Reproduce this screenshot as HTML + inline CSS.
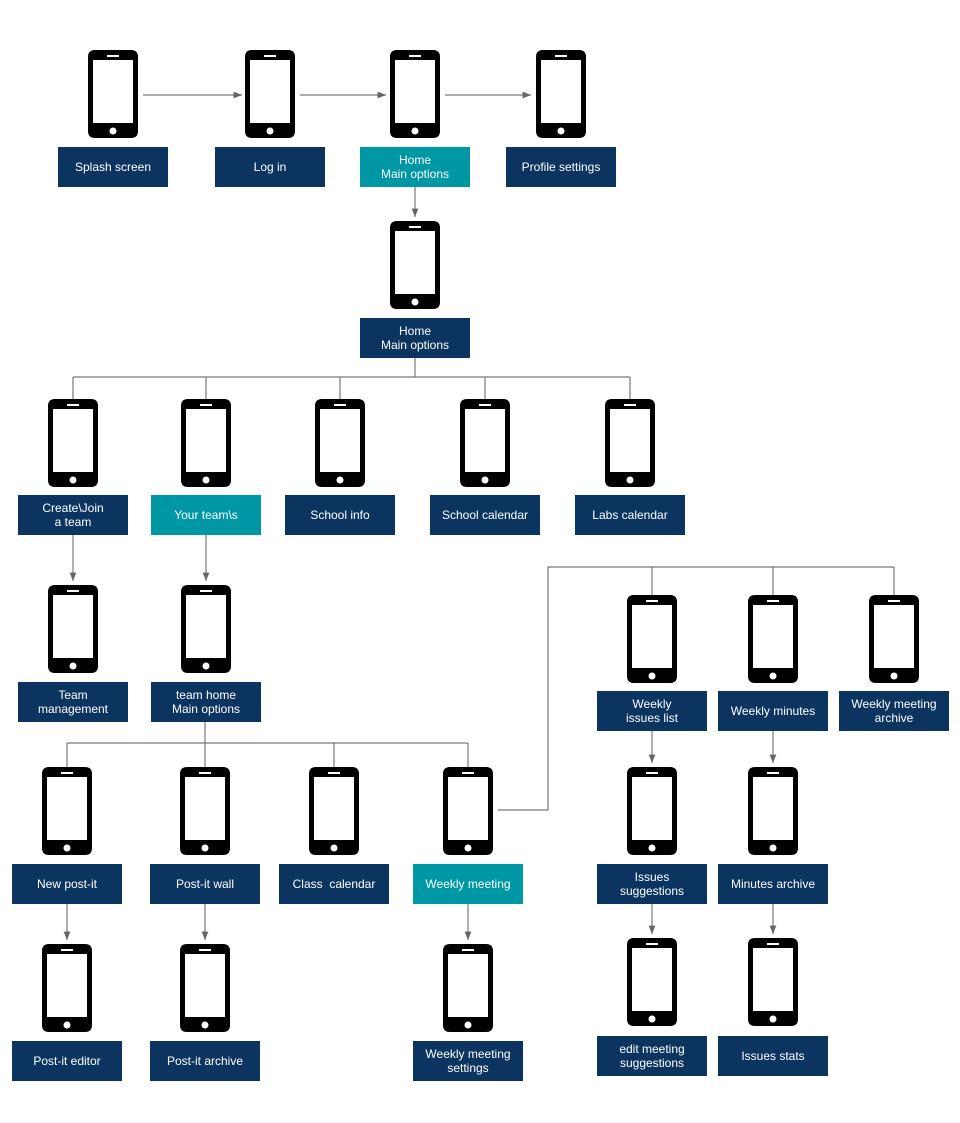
<!DOCTYPE html>
<html><head><meta charset="utf-8"><meta name="color-scheme" content="light only"><style>
:root{color-scheme:only light;}
html,body{margin:0;padding:0;background:#fff;}
body{width:960px;height:1123px;position:relative;overflow:hidden;font-family:"Liberation Sans",Arial,sans-serif;}
svg{position:absolute;left:0;top:0;}
.l{position:absolute;width:110px;height:40px;background:#0b3560;color:#fff;font-size:12px;line-height:14px;display:flex;align-items:center;justify-content:center;text-align:center;}
.t{background:#0097a4;}
</style></head><body>
<svg width="960" height="1123" viewBox="0 0 960 1123">
<defs>
<marker id="a" viewBox="0 0 10 10" refX="10" refY="5" markerWidth="7" markerHeight="7" orient="auto"><path d="M0,1 L10,5 L0,9 z" fill="#666"/></marker>
<g id="ph">
<path fill-rule="evenodd" fill="#000" d="M7,0 H43 Q50,0 50,7 V81 Q50,88 43,88 H7 Q0,88 0,81 V7 Q0,0 7,0 Z M5,10 V73 H45 V10 Z M19,5 V7 H31 V5 Z M25,77.5 A3.5,3.5 0 1 0 25,84.5 A3.5,3.5 0 1 0 25,77.5 Z"/>
</g>
</defs>
<g stroke="#777" stroke-width="1.2" fill="none">
<line x1="143" y1="95" x2="242" y2="95" marker-end="url(#a)"/>
<line x1="300" y1="95" x2="386" y2="95" marker-end="url(#a)"/>
<line x1="445" y1="95" x2="531" y2="95" marker-end="url(#a)"/>
<line x1="415" y1="187" x2="415" y2="217" marker-end="url(#a)"/>
<polyline points="415,358 415,377"/>
<line x1="73" y1="377" x2="630" y2="377"/>
<line x1="73" y1="377" x2="73" y2="399"/><line x1="206" y1="377" x2="206" y2="399"/><line x1="340" y1="377" x2="340" y2="399"/><line x1="485" y1="377" x2="485" y2="399"/><line x1="630" y1="377" x2="630" y2="399"/>
<line x1="73" y1="535" x2="73" y2="581" marker-end="url(#a)"/>
<line x1="206" y1="535" x2="206" y2="581" marker-end="url(#a)"/>
<line x1="205" y1="722" x2="205" y2="743"/>
<line x1="67" y1="743" x2="468" y2="743"/>
<line x1="67" y1="743" x2="67" y2="767"/><line x1="205" y1="743" x2="205" y2="767"/><line x1="334" y1="743" x2="334" y2="767"/><line x1="468" y1="743" x2="468" y2="767"/>
<polyline points="498,810 548,810 548,567 894,567"/>
<line x1="652" y1="567" x2="652" y2="595"/><line x1="773" y1="567" x2="773" y2="595"/><line x1="894" y1="567" x2="894" y2="595"/>
<line x1="67" y1="904" x2="67" y2="940" marker-end="url(#a)"/>
<line x1="205" y1="904" x2="205" y2="940" marker-end="url(#a)"/>
<line x1="468" y1="904" x2="468" y2="940" marker-end="url(#a)"/>
<line x1="652" y1="731" x2="652" y2="763" marker-end="url(#a)"/>
<line x1="773" y1="731" x2="773" y2="763" marker-end="url(#a)"/>
<line x1="652" y1="904" x2="652" y2="934" marker-end="url(#a)"/>
<line x1="773" y1="904" x2="773" y2="934" marker-end="url(#a)"/>
</g>
<use href="#ph" x="88" y="50"/>
<use href="#ph" x="245" y="50"/>
<use href="#ph" x="390" y="50"/>
<use href="#ph" x="536" y="50"/>
<use href="#ph" x="390" y="221"/>
<use href="#ph" x="48" y="399"/>
<use href="#ph" x="181" y="399"/>
<use href="#ph" x="315" y="399"/>
<use href="#ph" x="460" y="399"/>
<use href="#ph" x="605" y="399"/>
<use href="#ph" x="48" y="585"/>
<use href="#ph" x="181" y="585"/>
<use href="#ph" x="42" y="767"/>
<use href="#ph" x="180" y="767"/>
<use href="#ph" x="309" y="767"/>
<use href="#ph" x="443" y="767"/>
<use href="#ph" x="42" y="944"/>
<use href="#ph" x="180" y="944"/>
<use href="#ph" x="443" y="944"/>
<use href="#ph" x="627" y="595"/>
<use href="#ph" x="748" y="595"/>
<use href="#ph" x="869" y="595"/>
<use href="#ph" x="627" y="767"/>
<use href="#ph" x="748" y="767"/>
<use href="#ph" x="627" y="938"/>
<use href="#ph" x="748" y="938"/>
</svg>
<div class="l" style="left:58px;top:147px">Splash screen</div>
<div class="l" style="left:215px;top:147px">Log in</div>
<div class="l t" style="left:360px;top:147px">Home<br>Main options</div>
<div class="l" style="left:506px;top:147px">Profile settings</div>
<div class="l" style="left:360px;top:318px">Home<br>Main options</div>
<div class="l" style="left:18px;top:495px">Create\Join<br>a team</div>
<div class="l t" style="left:151px;top:495px">Your team\s</div>
<div class="l" style="left:285px;top:495px">School info</div>
<div class="l" style="left:430px;top:495px">School calendar</div>
<div class="l" style="left:575px;top:495px">Labs calendar</div>
<div class="l" style="left:18px;top:682px">Team<br>management</div>
<div class="l" style="left:151px;top:682px">team home<br>Main options</div>
<div class="l" style="left:12px;top:864px">New post-it</div>
<div class="l" style="left:150px;top:864px">Post-it wall</div>
<div class="l" style="left:279px;top:864px">Class&nbsp; calendar</div>
<div class="l t" style="left:413px;top:864px">Weekly meeting</div>
<div class="l" style="left:12px;top:1041px">Post-it editor</div>
<div class="l" style="left:150px;top:1041px">Post-it archive</div>
<div class="l" style="left:413px;top:1041px">Weekly meeting<br>settings</div>
<div class="l" style="left:597px;top:691px">Weekly<br>issues list</div>
<div class="l" style="left:718px;top:691px">Weekly minutes</div>
<div class="l" style="left:839px;top:691px">Weekly meeting<br>archive</div>
<div class="l" style="left:597px;top:864px">Issues<br>suggestions</div>
<div class="l" style="left:718px;top:864px">Minutes archive</div>
<div class="l" style="left:597px;top:1036px">edit meeting<br>suggestions</div>
<div class="l" style="left:718px;top:1036px">Issues stats</div>
</body></html>
